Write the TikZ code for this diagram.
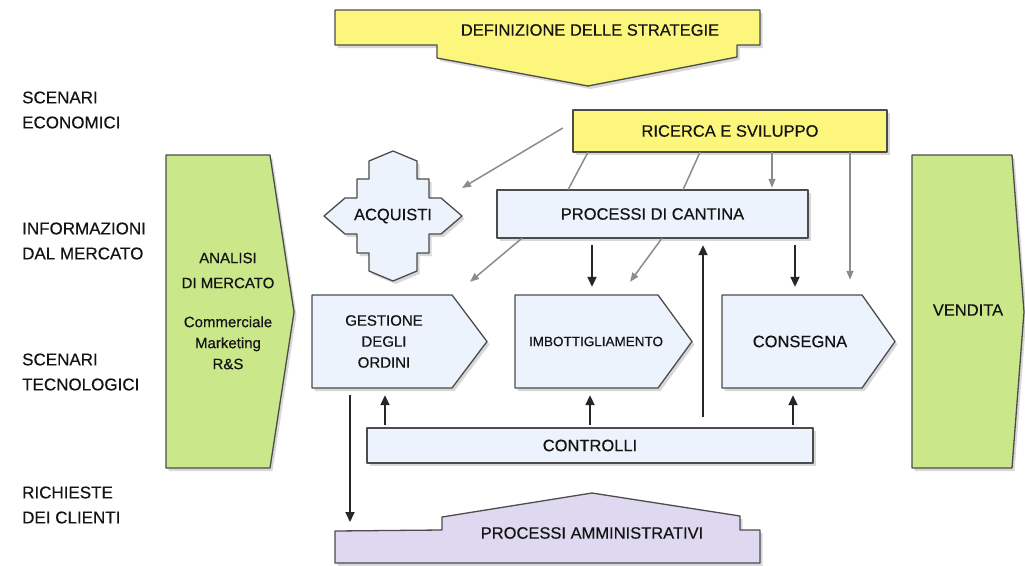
\documentclass[tikz,border=0pt]{standalone}
\usepackage{fontspec}
\setmainfont{Liberation Sans}[FakeBold=0.4]
\usetikzlibrary{arrows.meta,shadows,calc}
\definecolor{yfill}{RGB}{252,246,125}
\definecolor{gfill}{RGB}{202,232,138}
\definecolor{bfill}{RGB}{236,243,252}
\definecolor{lfill}{RGB}{222,216,240}
\definecolor{txt}{RGB}{20,20,20}
\begin{document}
\begin{tikzpicture}[x=1pt,y=-1pt,
  shp/.style={draw=black!70,line width=1.3pt,line join=round,
    drop shadow={shadow xshift=2.5pt,shadow yshift=-3pt,opacity=.3}},
  lbl/.style={text=txt,font=\fontsize{16.5}{19}\selectfont,align=center,inner sep=0pt},
  side/.style={text=txt,font=\fontsize{17}{25}\selectfont,align=left,anchor=west,inner sep=0pt},
  blk/.style={draw=black!85,line width=2pt,-{Triangle[length=10pt,width=9pt]}},
  gry/.style={draw=black!45,line width=1.5pt,-{Triangle[length=9pt,width=7pt]}},
  gln/.style={draw=black!45,line width=1.5pt}]
\useasboundingbox[fill=white] (0,0) rectangle (1025,565);

% ---- shapes ----
\path[shp,fill=yfill] (335,10)--(760,10)--(760,45)--(737,45)--(737,57)--(588,86)--(437,58)--(437,45)--(335,45)--cycle;
\path[shp,fill=lfill] (335,563)--(335,531)--(442,530)--(442,517)--(592,493)--(740,516)--(740,530)--(760,530)--(760,563)--cycle;
\path[shp,fill=gfill] (166,155)--(270,155)--(294,312)--(270,468)--(166,468)--cycle;
\path[shp,fill=gfill] (912,155)--(1012,155)--(1024,312)--(1012,468)--(912,468)--cycle;
\path[shp,fill=yfill] (573,110) rectangle (887,152);
\path[shp,fill=bfill] (497,190) rectangle (808,238);
\path[shp,fill=bfill] (367,428) rectangle (813,463);
\path[shp,fill=bfill] (312,295)--(452,295)--(487,341.5)--(452,388)--(312,388)--cycle;
\path[shp,fill=bfill] (515,295)--(658,295)--(692,341.5)--(658,388)--(515,388)--cycle;
\path[shp,fill=bfill] (722,295)--(862,295)--(895,341.5)--(862,388)--(722,388)--cycle;
\path[shp,fill=bfill,shift={(393,216)}]
  (0,-65)--(24,-55)--(24,-37)--(36,-37)--(36,-18)--(48,-18)--(69,0)
  --(48,18)--(36,18)--(36,37)--(24,37)--(24,55)--(0,65)
  --(-24,55)--(-24,37)--(-36,37)--(-36,18)--(-48,18)--(-69,0)
  --(-48,-18)--(-36,-18)--(-36,-37)--(-24,-37)--(-24,-55)--cycle;

% ---- nodes ----
\node[lbl] (def) at (590,30) {DEFINIZIONE DELLE STRATEGIE};
\node[lbl,minimum width=314,minimum height=42] (ric) at (730,131) {RICERCA E SVILUPPO};
\node[lbl,minimum width=311,minimum height=48] (proc) at (652.5,214) {PROCESSI DI CANTINA};
\node[lbl] (acq) at (393,216) {ACQUISTI};
\node[lbl,minimum width=144,minimum height=93,font=\fontsize{15}{21}\selectfont] (gest) at (384,341.5) {GESTIONE\\DEGLI\\ORDINI};
\node[lbl,minimum width=162,minimum height=93,font=\fontsize{13.5}{16}\selectfont] (imb) at (596,341.5) {IMBOTTIGLIAMENTO};
\node[lbl,minimum width=156,minimum height=93] (cons) at (800,341.5) {CONSEGNA};
\node[lbl,minimum width=446,minimum height=35] (ctrl) at (590,445.5) {CONTROLLI};
\node[lbl] (amm) at (592,533) {PROCESSI AMMINISTRATIVI};
\node[lbl,font=\fontsize{15}{21}\selectfont] (ana) at (228,311)
  {ANALISI\\[4pt]DI MERCATO\\[18pt]Commerciale\\Marketing\\R\&S};
\node[lbl] (ven) at (968,310) {VENDITA};

\node[side] (s1) at (22,110) {SCENARI\\ECONOMICI};
\node[side] (s2) at (22,241) {INFORMAZIONI\\DAL MERCATO};
\node[side] (s3) at (22,372) {SCENARI\\TECNOLOGICI};
\node[side] (s4) at (22,505) {RICHIESTE\\DEI CLIENTI};

% ---- gray connectors ----
\draw[gry] ([xshift=-10pt,yshift=3pt]ric.west) -- ([xshift=69pt,yshift=28pt]acq.center);
\draw[gln] ([xshift=-142pt]ric.south) -- ([xshift=-84.5pt]proc.north);
\draw[gln] ([xshift=-30pt]ric.south) -- ([xshift=30.5pt]proc.north);
\draw[gry] ([xshift=42pt]ric.south) -- ([xshift=119.5pt,yshift=2pt]proc.north);
\draw[gry] ([xshift=120pt]ric.south) -- ([xshift=50pt,yshift=15pt]cons.north);
\draw[gry] ([xshift=-130.5pt]proc.south) -- ([xshift=86pt,yshift=13pt]gest.north);
\draw[gry] ([xshift=9.5pt]proc.south) -- ([xshift=34pt,yshift=13pt]imb.north);

% ---- black connectors ----
\draw[blk,shorten <=7pt,shorten >=8pt] ([xshift=-60.5pt]proc.south) -- ([xshift=-4pt]imb.north);
\draw[blk,shorten <=7pt,shorten >=8pt] ([xshift=142.5pt]proc.south) -- ([xshift=-5pt]cons.north);
\draw[blk,shorten <=11pt,shorten >=7pt] ([xshift=113pt]ctrl.north) -- ([xshift=50.5pt]proc.south);
\draw[blk,shorten <=3pt,shorten >=7pt] ([xshift=-205pt]ctrl.north) -- ([xshift=1pt]gest.south);
\draw[blk,shorten <=3pt,shorten >=7pt] (ctrl.north) -- ([xshift=-6pt]imb.south);
\draw[blk,shorten <=3pt,shorten >=7pt] ([xshift=203pt]ctrl.north) -- ([xshift=-7pt]cons.south);
\draw[blk,shorten <=7pt] ([xshift=-34pt]gest.south) -- ([xshift=-242pt,yshift=11pt]amm.center);
\end{tikzpicture}
\end{document}
